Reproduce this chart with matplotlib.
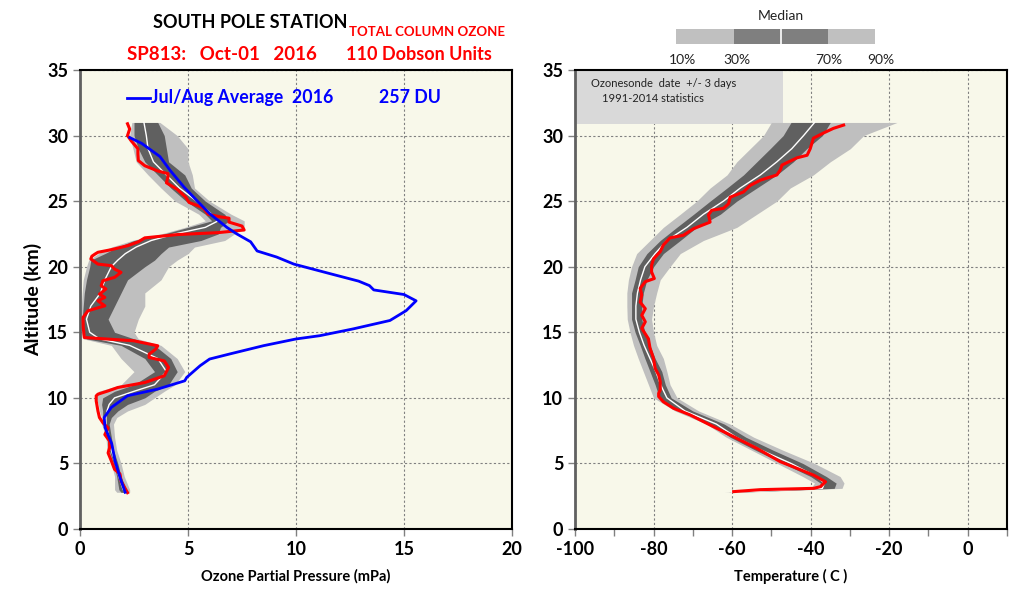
import matplotlib
matplotlib.use("Agg")
import matplotlib.pyplot as plt
from matplotlib.patches import Rectangle
from matplotlib.lines import Line2D
import numpy as np

plt.rcParams['font.family'] = ['Lato', 'DejaVu Sans']
plt.rcParams['axes.unicode_minus'] = False

# ---- ozone climatology percentiles (mPa) vs altitude (km)
oz_alt = [31.0, 30.0, 29.0, 28.0, 27.0, 26.0, 25.0, 24.0, 23.5, 23.0, 22.5, 22.0,
          21.5, 21.0, 20.5, 20.0, 19.0, 18.0, 17.0, 16.0, 15.0, 14.5, 14.0, 13.0,
          12.0, 11.0, 10.5, 10.0, 9.5, 9.0, 8.5, 8.0, 7.0, 6.0, 5.0, 4.0, 3.0, 2.8]
oz_p10 = [2.4, 2.3, 2.45, 2.6, 3.15, 3.75, 4.4, 5.5, 5.8, 4.85, 3.75, 2.4,
          1.45, 0.85, 0.4, 0.3, 0.15, 0.1, 0.06, 0.03, 0.06, 0.15, 1.45, 1.9,
          2.5, 1.9, 0.85, 0.75, 0.85, 0.9, 1.0, 1.0, 1.2, 1.25, 1.45, 1.6, 1.6, 1.7]
oz_p30 = [2.5, 2.5, 2.7, 3.0, 3.6, 4.2, 4.9, 5.8, 6.1, 5.0, 3.9, 2.5,
          1.75, 1.15, 0.5, 0.45, 0.3, 0.2, 0.15, 0.1, 0.15, 0.3, 1.9, 3.0,
          3.45, 2.5, 1.6, 1.05, 1.0, 1.05, 1.05, 1.1, 1.25, 1.35, 1.55, 1.7, 1.8, 1.9]
oz_p50 = [2.96, 3.07, 3.15, 3.4, 4.0, 4.6, 5.4, 6.1, 6.4, 5.8, 4.4, 3.3,
          2.6, 2.1, 1.75, 1.45, 1.15, 0.95, 0.5, 0.3, 0.45, 0.9, 2.3, 3.6,
          4.0, 3.45, 2.5, 1.6, 1.35, 1.25, 1.2, 1.2, 1.35, 1.45, 1.65, 1.8, 2.0, 2.1]
oz_p70 = [3.6, 3.9, 4.0, 4.1, 4.85, 5.15, 5.8, 6.7, 6.9, 6.5, 6.4, 5.6,
          4.1, 3.75, 3.45, 3.0, 2.2, 1.9, 1.6, 1.3, 1.6, 2.5, 3.45, 4.2,
          4.5, 4.1, 3.45, 3.0, 2.2, 1.75, 1.45, 1.35, 1.45, 1.55, 1.75, 1.9, 2.15, 2.2]
oz_p90 = [3.7, 4.5, 5.0, 5.0, 5.2, 5.3, 6.0, 7.0, 7.6, 7.6, 7.15, 6.7,
          5.3, 5.0, 4.5, 4.1, 3.75, 3.0, 3.0, 2.7, 2.5, 2.7, 3.75, 4.5,
          4.85, 4.4, 3.9, 3.45, 3.0, 2.2, 1.7, 1.55, 1.6, 1.7, 1.9, 2.05, 2.3, 2.3]

# ---- 2016 Oct-01 sounding (red)
o3_alt = [30.9, 30.5, 30.0, 29.6, 29.0, 28.6, 28.1, 27.7, 27.3, 27.1, 26.8, 26.4,
          25.9, 25.3, 24.9, 24.5, 24.0, 23.8, 23.7, 23.4, 23.1, 22.8, 22.6, 22.45,
          22.2, 21.9, 21.6, 21.3, 21.1, 20.97, 20.8, 20.59, 20.2, 20.08, 19.82, 19.57,
          19.19, 18.93, 18.55, 18.3, 17.91, 17.66, 17.4, 17.02, 16.64, 16.13, 15.37, 14.6,
          14.35, 13.97, 13.71, 13.33, 13.08, 12.82, 12.32, 11.68, 11.17, 10.79, 10.53, 10.28,
          10.15, 9.77, 9.0, 8.5, 8.1, 7.7, 7.2, 6.7, 6.2, 5.8, 5.2, 4.55,
          4.2, 3.66, 3.15, 2.77]
o3_val = [2.2, 2.3, 2.2, 2.37, 2.68, 2.68, 2.7, 3.0, 3.6, 4.07, 4.07, 4.0,
          4.5, 4.9, 5.05, 5.7, 5.93, 6.5, 6.9, 6.9, 7.5, 7.6, 6.4, 4.5,
          3.0, 2.7, 2.2, 1.45, 0.83, 0.7, 0.55, 0.5, 0.83, 1.45, 1.6, 1.9,
          1.6, 1.06, 0.98, 1.2, 0.9, 1.15, 0.83, 1.15, 0.37, 0.14, 0.15, 0.2,
          2.5, 3.6, 3.5, 3.2, 3.2, 3.9, 4.1, 3.9, 3.0, 1.75, 1.3, 0.83,
          0.75, 0.75, 0.83, 0.9, 1.06, 1.3, 1.15, 1.37, 1.37, 1.3, 1.45, 1.6,
          1.85, 1.9, 2.07, 2.2]

# ---- Jul/Aug 2016 average (blue)
avg_alt = [29.85, 29.4, 28.4, 27.35, 26.1, 25.06, 24.05, 23.0, 22.5, 21.9, 21.2, 20.74,
           20.2, 19.46, 18.9, 18.56, 18.23, 17.88, 17.4, 16.65, 15.9, 15.26, 14.74, 14.49,
           13.98, 13.35, 12.96, 12.45, 11.56, 11.3, 10.67, 10.16, 9.27, 8.5, 7.74, 6.5,
           5.2, 3.94, 2.8]
avg_val = [2.3, 2.86, 3.7, 4.17, 4.8, 5.4, 6.0, 6.8, 7.26, 7.9, 8.2, 9.1,
           9.9, 11.6, 12.9, 13.4, 13.6, 15.0, 15.56, 15.1, 14.35, 12.65, 11.1, 10.0,
           8.5, 6.94, 6.0, 5.56, 4.94, 4.85, 3.6, 2.2, 1.45, 1.12, 1.16, 1.47,
           1.62, 1.85, 2.09]

# ---- temperature climatology percentiles (C)
t_alt = [31.0, 30.0, 29.0, 28.0, 27.0, 26.0, 25.0, 24.0, 23.0, 22.0, 21.0, 20.0,
         19.0, 18.0, 17.0, 16.0, 15.0, 14.0, 13.0, 12.0, 11.0, 10.0, 9.0, 8.0,
         7.0, 6.0, 5.0, 4.0, 3.5, 3.1, 2.8]
t_p10 = [-50, -52, -55.4, -58.8, -61.3, -65.6, -69, -73.2, -77.5, -80.9, -84.3, -85.6,
         -86.4, -86.8, -86.8, -86.7, -86, -85.1, -83.9, -82.6, -81.3, -80, -74.5, -66.5,
         -61.5, -55, -48.5, -42, -39, -40, -62]
t_p30 = [-45, -47, -50.3, -53.7, -57.1, -61.3, -65.6, -69.8, -74.1, -78.3, -81.7, -83.9,
         -84.7, -85.6, -85.6, -85.6, -84.7, -83.4, -82.2, -80.9, -79.6, -78.5, -73.5, -65.5,
         -60.5, -54, -47, -40, -37.5, -38, -61]
t_p50 = [-39, -41.8, -44.8, -48.6, -52.8, -57.9, -62.2, -67.3, -71.5, -76.6, -79.6, -82.2,
         -83.3, -84.1, -84.5, -84.5, -83.6, -82.4, -80.9, -79.4, -78.2, -76.6, -72, -64,
         -59, -52.5, -45, -38.5, -36.5, -37, -60]
t_p70 = [-35, -37, -41, -44.4, -48.6, -53.7, -58.8, -63, -69, -73.2, -77.5, -80,
         -81.7, -82.6, -83, -83, -82.2, -80.9, -79.6, -77.9, -77, -75.5, -70, -62,
         -56.5, -49.5, -42, -36, -33.5, -34, -59]
t_p90 = [-18, -26.5, -29.9, -35, -39.3, -45.2, -48.6, -53.7, -58.8, -67.3, -73.2, -75.8,
         -78.3, -79.2, -80, -80.5, -80, -79.2, -77.5, -76.6, -75.8, -74, -68.5, -60.5,
         -54.5, -47, -39, -32.5, -31.5, -32, -58]

# ---- 2016 Oct-01 temperature (red)
tr_alt = [2.85, 3.0, 3.1, 3.23, 3.6, 4.1, 4.63, 5.13, 6.15, 7.17, 7.93, 8.7,
          9.2, 9.7, 10.1, 10.35, 10.6, 11.24, 11.75, 12.25, 13.0, 13.8, 14.5, 15.3,
          15.8, 16.3, 16.8, 17.3, 17.85, 18.35, 18.86, 19.1, 19.6, 20.1, 20.6, 21.15,
          21.66, 22.2, 22.4, 22.9, 23.2, 23.4, 23.95, 24.3, 24.45, 24.8, 25.3, 25.7,
          26.2, 26.6, 27.0, 27.4, 27.75, 28.3, 28.5, 29.0, 29.4, 29.8, 30.2, 30.55, 30.8]
tr_val = [-59.6, -52.8, -39.2, -37.5, -36.2, -39.2, -43.5, -47.7, -53.7, -60.5, -65.6, -70.7,
          -74.9, -77.5, -78.7, -78.7, -78.3, -78.3, -78.7, -79.6, -80, -80.9, -81.3, -83,
          -82.1, -83, -82.1, -83.4, -83, -83.4, -82.1, -79.8, -80.5, -80.5, -80, -78.3,
          -77.5, -75.8, -72.4, -69.8, -67.3, -65.6, -66, -65.2, -62.2, -60.9, -60.5, -57.1,
          -55.4, -52.8, -48.6, -47.7, -47.3, -43.5, -40.9, -40.1, -39.7, -39.3, -36.7, -34.2, -31.6]

pct_labels = ['10%', '30%', '70%', '90%']

LIGHT = '#bfbfbf'
DARK = '#606060'
BG = '#f8f8ea'


def fx(px):
    return px / 1024


def fy(py):
    return 1 - py / 595


def style_axes(ax):
    ax.set_facecolor(BG)
    ax.set_ylim(0, 35)
    ax.set_yticks(range(0, 36, 5))
    ax.grid(True, color='#808080', linestyle=(0, (2, 2)), linewidth=0.8)
    ax.set_axisbelow(True)
    for s in ax.spines.values():
        s.set_color('black')
        s.set_linewidth(1.5)
    ax.spines['left'].set_color('#606060')
    ax.spines['left'].set_linewidth(2)
    ax.tick_params(axis='both', which='both', direction='out', color='#808080',
                   labelsize=13, length=5, width=1)
    for lab in ax.get_xticklabels() + ax.get_yticklabels():
        lab.set_fontweight('bold')


fig = plt.figure(figsize=(10.24, 5.95), dpi=100)

# ---------------- ozone panel
ax1 = fig.add_axes([fx(80), fy(529), fx(432), 459 / 595])
ax1.fill_betweenx(oz_alt, oz_p10, oz_p90, color=LIGHT, lw=0, zorder=2)
ax1.fill_betweenx(oz_alt, oz_p30, oz_p70, color=DARK, lw=0, zorder=3)
ax1.plot(oz_p50, oz_alt, color='white', lw=1, zorder=4)
ax1.plot(o3_val, o3_alt, color='#ff0000', lw=2.2, zorder=5)
ax1.plot(avg_val, avg_alt, color='#0000ff', lw=2, zorder=6)
ax1.set_xlim(0, 20)
ax1.set_xticks(range(0, 21, 5))
style_axes(ax1)
ax1.set_xlabel('Ozone Partial Pressure (mPa)', fontsize=10.5, fontweight='bold', labelpad=8)
ax1.set_ylabel('Altitude (km)', fontsize=14, fontweight='bold', labelpad=4)

# legend for blue line
ax1.add_line(Line2D([0.108, 0.163], [0.94, 0.94], transform=ax1.transAxes,
                    color='#0000ff', lw=2, zorder=7))
ax1.text(0.165, 0.94, 'Jul/Aug Average  2016', transform=ax1.transAxes, color='#0000ff',
         fontsize=12.8, fontweight='bold', va='center', ha='left')
ax1.text(0.692, 0.94, '257 DU', transform=ax1.transAxes, color='#0000ff',
         fontsize=12.8, fontweight='bold', va='center', ha='left')

# ---------------- temperature panel
ax2 = fig.add_axes([fx(575), fy(529), fx(432), 459 / 595])
ax2.fill_betweenx(t_alt, t_p10, t_p90, color=LIGHT, lw=0, zorder=2)
ax2.fill_betweenx(t_alt, t_p30, t_p70, color=DARK, lw=0, zorder=3)
ax2.plot(t_p50, t_alt, color='white', lw=1, zorder=4)
ax2.plot(tr_val, tr_alt, color='#ff0000', lw=2.2, zorder=5)
ax2.set_xlim(-100, 10)
ax2.set_xticks(range(-100, 1, 20))
ax2.set_xticks(range(-100, 11, 10), minor=True)
style_axes(ax2)
ax2.grid(False, which='minor')
ax2.set_xlabel('Temperature ( C )', fontsize=10.5, fontweight='bold', labelpad=8)

# statistics note box
ax2.add_patch(Rectangle((-100, 30.9), 53, 4.1, facecolor='#d9d9d9', edgecolor='none', zorder=1.5))
ax2.text(-96, 34.0, 'Ozonesonde  date  +/- 3 days', fontsize=8, color='#222222',
         va='center', ha='left', zorder=2)
ax2.text(-93.2, 32.8, '1991-2014 statistics', fontsize=8, color='#222222',
         va='center', ha='left', zorder=2)

# ---------------- titles
fig.text(fx(250), fy(22), 'SOUTH POLE STATION', fontsize=13, fontweight='bold',
         ha='center', va='center', color='black')
fig.text(fx(222), fy(54), 'SP813:   Oct-01   2016', fontsize=13.5, fontweight='bold',
         ha='center', va='center', color='#ff0000')
fig.text(fx(427), fy(32), 'TOTAL COLUMN OZONE', fontsize=9.5, fontweight='bold',
         ha='center', va='center', color='#ff0000')
fig.text(fx(419), fy(55), '110 Dobson Units', fontsize=13, fontweight='bold',
         ha='center', va='center', color='#ff0000')

# ---------------- percentile key (top right)
key_edges = [676, 734, 828, 875]
fig.add_artist(Rectangle((fx(key_edges[0]), fy(44)), fx(key_edges[3] - key_edges[0]), 15 / 595,
                         transform=fig.transFigure, facecolor='#c0c0c0', edgecolor='none'))
fig.add_artist(Rectangle((fx(key_edges[1]), fy(44)), fx(key_edges[2] - key_edges[1]), 15 / 595,
                         transform=fig.transFigure, facecolor='#7f7f7f', edgecolor='none'))
fig.add_artist(Line2D([fx(781), fx(781)], [fy(44), fy(29)], transform=fig.transFigure,
                      color='white', lw=1.2))
fig.text(fx(781), fy(16), 'Median', fontsize=10, ha='center', va='center', color='#222222')
for lab, xp in zip(pct_labels, [682, 737, 829, 881]):
    fig.text(fx(xp), fy(60), lab, fontsize=10, ha='center', va='center', color='#222222')

fig.savefig('out.png', dpi=100)
